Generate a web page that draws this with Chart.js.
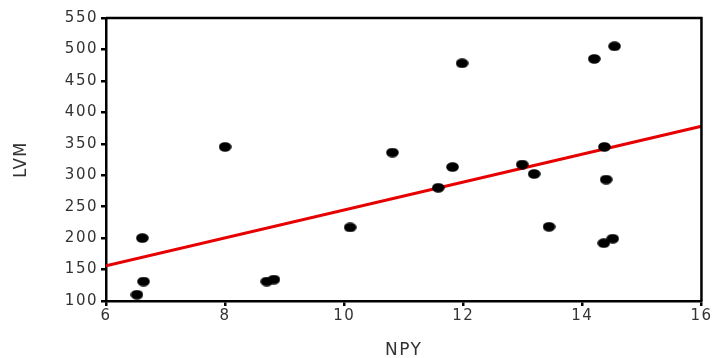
<!DOCTYPE html>
<html><head><meta charset="utf-8">
<script src="https://cdn.jsdelivr.net/npm/chart.js@4/dist/chart.umd.min.js"></script>
<style>html,body{margin:0;padding:0;background:#fff}#wrap{width:712px;height:358px}</style>
</head><body><div id="wrap"><canvas id="c" width="712" height="358"></canvas></div>
<script>
const npy = [6.52, 6.61, 6.63, 8.00, 8.70, 8.82, 10.10, 10.81, 11.58, 11.82, 11.98, 12.99, 13.19, 13.44, 14.20, 14.36, 14.37, 14.40, 14.51, 14.54];
const lvm = [110, 200, 131, 345, 131, 134, 217, 336, 280, 313, 478, 317, 302, 218, 485, 192, 345, 293, 199, 505];
const fitX = [6, 16];
const fitY = [156, 378];
const xTicks = [6, 8, 10, 12, 14, 16];
const yTicks = [100, 150, 200, 250, 300, 350, 400, 450, 500, 550];

const dot = document.createElement('canvas');
dot.width = 13; dot.height = 10;
(function(){const g=dot.getContext('2d');g.fillStyle='#000';g.beginPath();g.ellipse(6.5,5,6.3,4.8,0,0,Math.PI*2);g.fill();})();

const frame = {id:'frame',
  beforeDraw(chart){ chart.ctx.letterSpacing = '1.5px'; },
  afterDraw(chart){const {ctx,chartArea:a}=chart;ctx.save();ctx.strokeStyle='#000';ctx.lineWidth=2.5;ctx.beginPath();ctx.moveTo(a.left,a.top);ctx.lineTo(a.right,a.top);ctx.lineTo(a.right,a.bottom);ctx.stroke();ctx.restore();}};

new Chart(document.getElementById('c'), {
  type: 'scatter',
  data: {
    datasets: [
      {data: npy.map((x,i)=>({x, y: lvm[i]})), pointStyle: dot, pointRadius: 6, backgroundColor:'#000', borderColor:'#000'},
      {type:'line', data: fitX.map((x,i)=>({x, y: fitY[i]})), borderColor:'#e60000', borderWidth:3, pointRadius:0, fill:false}
    ]
  },
  plugins: [frame],
  options: {
    responsive: false, animation: false,
    layout: {padding: {top: 18, right: 10, left: 0, bottom: 0}},
    plugins: {legend: {display: false}, tooltip: {enabled: false}},
    scales: {
      x: {
        type: 'linear', min: 6, max: 16,
        afterBuildTicks: s => { s.ticks = xTicks.map(v => ({value: v})); },
        afterFit: s => { s.height = 57; },
        grid: {drawOnChartArea: false, color: '#000', lineWidth: 2.5, tickLength: 5},
        border: {color: '#000', width: 2.5},
        ticks: {color: '#333', font: {family: 'DejaVu Sans', size: 15}, padding: 1, maxRotation: 0},
        title: {display: true, text: 'NPY', color: '#333', font: {family: 'DejaVu Sans', size: 17, lineHeight: 1}, padding: {top: 0, bottom: -1}}
      },
      y: {
        type: 'linear', min: 100, max: 550,
        afterBuildTicks: s => { s.ticks = yTicks.map(v => ({value: v})); },
        afterFit: s => { s.width = 106; },
        grid: {drawOnChartArea: false, color: '#000', lineWidth: 2.5, tickLength: 5},
        border: {color: '#000', width: 2.5},
        ticks: {color: '#333', font: {family: 'DejaVu Sans', size: 15}, padding: 3},
        title: {display: true, text: 'LVM', color: '#333', font: {family: "'Liberation Sans Narrow', 'DejaVu Sans Condensed', sans-serif", size: 18, lineHeight: 1}, padding: {top: 12, bottom: 0}}
      }
    }
  }
});
</script></body></html>
